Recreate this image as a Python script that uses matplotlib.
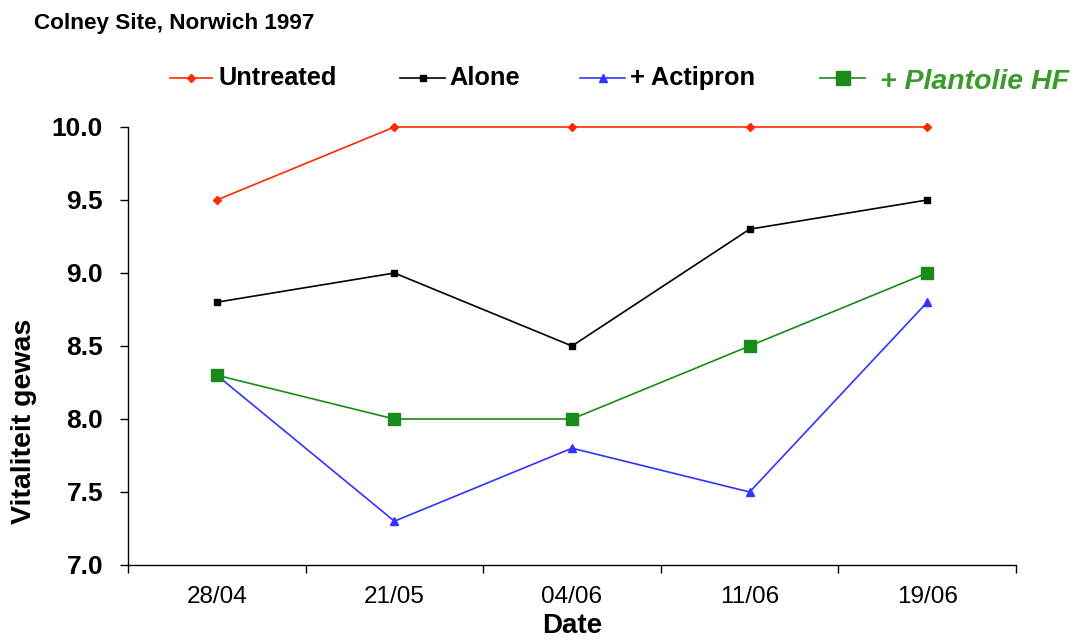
import matplotlib
matplotlib.use("Agg")
import matplotlib.pyplot as plt
from matplotlib.lines import Line2D

plt.rcParams['font.family'] = ['Liberation Sans', 'DejaVu Sans']

dates = ["28/04", "21/05", "04/06", "11/06", "19/06"]
untreated = [9.5, 10.0, 10.0, 10.0, 10.0]
alone = [8.8, 9.0, 8.5, 9.3, 9.5]
actipron = [8.3, 7.3, 7.8, 7.5, 8.8]
plantolie = [8.3, 8.0, 8.0, 8.5, 9.0]
yticks = [7.0, 7.5, 8.0, 8.5, 9.0, 9.5, 10.0]
series_names = ['Untreated', 'Alone', '+ Actipron', '+ Plantolie HF']

W, H = 1078, 641
fig = plt.figure(figsize=(W / 100, H / 100), dpi=100)
ax = fig.add_axes([128 / W, 1 - 565 / H, (1016 - 128) / W, (565 - 127) / H])
x = list(range(len(dates)))

styles = [
    dict(color='#ff2a00', marker='D', markersize=4.5),
    dict(color='black', marker='s', markersize=5),
    dict(color='#3333ff', marker='^', markersize=6),
    dict(color='#1a8a1a', marker='s', markersize=8),
]
for vals, st in zip([untreated, alone, actipron, plantolie], styles):
    ax.plot(x, vals, lw=1.2, clip_on=False, zorder=3, **st)

ax.set_xlim(-0.5, 4.5)
ax.set_ylim(7.0, 10.0)
ax.set_xticks([i - 0.5 for i in range(len(dates) + 1)])
ax.set_xticklabels([])
ax.set_xticks(x, minor=True)
ax.set_xticklabels(dates, minor=True, fontsize=17.5)
ax.tick_params(axis='x', which='minor', length=0, pad=15)
ax.tick_params(axis='x', which='major', length=6, direction='out', width=1)
ax.set_yticks(yticks)
ax.set_yticklabels([f"{v:.1f}" for v in yticks], fontsize=19, fontweight='bold')
ax.tick_params(axis='y', length=6, direction='out', width=1, pad=12)
for s in ['top', 'right']:
    ax.spines[s].set_visible(False)
for s in ['left', 'bottom']:
    ax.spines[s].set_linewidth(1)

ax.set_xlabel('Date', fontsize=20, fontweight='bold')
ax.xaxis.set_label_coords(0.5, (565 - 613) / 438)
ax.set_ylabel('Vitaliteit gewas', fontsize=20.5, fontweight='bold')
ax.yaxis.set_label_coords((37 - 128) / 888, (565 - 421) / 438)

fig.text(34 / W, 1 - 24 / H, 'Colney Site, Norwich 1997', fontsize=16.2, fontweight='bold',
         va='center', ha='left')

# legend drawn manually
leg_y = 1 - 78 / H
line_spans = [(170, 212), (400, 445), (580, 625), (820, 865)]
text_x = [218, 449, 630, 880]
for (x0, x1), tx, st, name in zip(line_spans, text_x, styles, series_names):
    fig.add_artist(Line2D([x0 / W, x1 / W], [leg_y, leg_y], lw=1.2, color=st['color'],
                          transform=fig.transFigure))
    fig.add_artist(Line2D([(x0 + x1) / 2 / W], [leg_y], lw=0, marker=st['marker'],
                          markersize=st['markersize'] + (2 if name.startswith('+ P') else 0),
                          color=st['color'], transform=fig.transFigure))
    if name.startswith('+ P'):
        fig.text(tx / W, 1 - 82 / H, name, fontsize=20.5, fontweight='bold', fontstyle='italic',
                 color='#3a9a2a', va='center', ha='left')
    else:
        fig.text(tx / W, leg_y, name, fontsize=18.3, fontweight='bold', va='center', ha='left')

fig.savefig('out.png', dpi=100)
